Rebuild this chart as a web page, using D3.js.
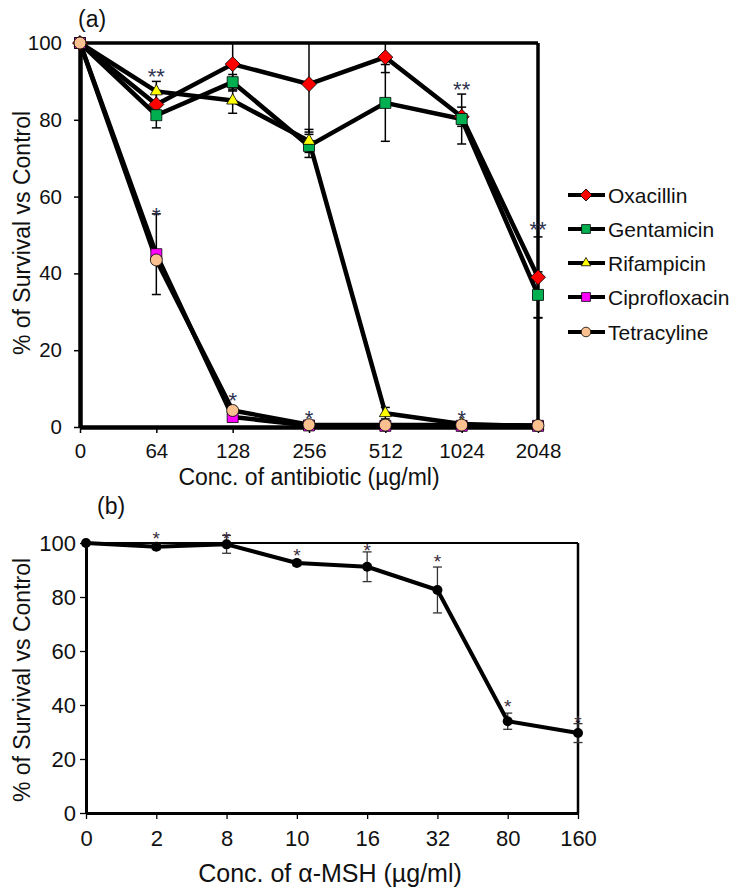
<!DOCTYPE html>
<html><head><meta charset="utf-8">
<script src="https://cdn.jsdelivr.net/npm/d3@7"></script>
<style>body{margin:0;background:#fff} svg{display:block}</style>
</head><body>
<svg id="chart" width="737" height="893"></svg>
<script>
// ---------- Panel (a) data ----------
const categoriesA = ["0","64","128","256","512","1024","2048"];
const seriesNames = ["Oxacillin","Gentamicin","Rifampicin","Ciprofloxacin","Tetracyline"];
const oxacillin     = [100, 84.0, 94.5, 89.3, 96.3, 80.8, 39.0];
const gentamicin    = [100, 81.2, 89.8, 73.2, 84.4, 80.2, 34.4];
const rifampicin    = [100, 87.4, 85.0, 74.5, 3.6, 0.8, 0.2];
const ciprofloxacin = [100, 45.0, 2.6, 0.4, 0.3, 0.3, 0.3];
const tetracyline   = [100, 43.5, 4.3, 0.6, 0.5, 0.5, 0.4];
const oxacillinErr     = [0, 3.0, 7.0, 12.5, 4.0, 2.5, 10.5];
const gentamicinErr    = [0, 3.3, 2.0, 3.0, 10.0, 6.5, 6.0];
const rifampicinErr    = [0, 2.6, 3.3, 3.0, 1.5, 0.5, 0];
const ciprofloxacinErr = [0, 10.5, 1.0, 0.5, 0, 0, 0];
const tetracylineErr   = [0, 1.0, 1.0, 0.5, 0, 0, 0];
const yTicksA = [0, 20, 40, 60, 80, 100];
const annotA_x = ["64", "64", "128", "256", "1024", "1024", "2048"];
const annotA_y = [92.7, 56.5, 8.3, 3.6, 3.6, 89.3, 52.9];
const annotA_t = ["**", "*", "*", "*", "*", "**", "**"];

// ---------- Panel (b) data ----------
const categoriesB = ["0","2","8","10","16","32","80","160"];
const msh    = [100, 98.6, 99.5, 92.6, 91.2, 82.6, 34.0, 29.6];
const mshErr = [0, 1.0, 3.3, 1.0, 5.5, 8.5, 3.0, 3.5];
const yTicksB = [0, 20, 40, 60, 80, 100];
const annotB_x = ["2", "8", "10", "16", "32", "80", "160"];
const annotB_y = [103.3, 103.3, 96.9, 98.8, 95.0, 41.2, 35.3];

const FONT = "'Liberation Sans', Arial, sans-serif";
const NARROW = "'Liberation Sans Narrow', 'Arial Narrow', 'Liberation Sans', Arial, sans-serif";
const svg = d3.select("#chart");

// ================= Panel (a) =================
const xA = d3.scalePoint().domain(categoriesA).range([80, 538]).padding(0);
const yA = d3.scaleLinear().domain([0, 100]).range([427, 43]);

const seriesA = [
  {name: seriesNames[0], values: oxacillin, err: oxacillinErr, shape: "diamond", fill: "#ff0000"},
  {name: seriesNames[1], values: gentamicin, err: gentamicinErr, shape: "square", fill: "#00b050"},
  {name: seriesNames[2], values: rifampicin, err: rifampicinErr, shape: "triangle", fill: "#ffff00"},
  {name: seriesNames[3], values: ciprofloxacin, err: ciprofloxacinErr, shape: "square", fill: "#ff00ff"},
  {name: seriesNames[4], values: tetracyline, err: tetracylineErr, shape: "circle", fill: "#fac090"}
];

function markerPath(shape, scale) {
  const s = scale || 1;
  if (shape === "diamond") return d3.symbol().type(d3.symbolSquare).size(112 * s * s)();
  if (shape === "square") return d3.symbol().type(d3.symbolSquare).size(121 * s * s)();
  if (shape === "triangle") return d3.symbol().type(d3.symbolTriangle).size(62 * s * s)();
  return d3.symbol().type(d3.symbolCircle).size(113 * s * s)();
}

svg.append("defs").append("clipPath").attr("id", "clipA")
  .append("rect").attr("x", 60).attr("y", 43).attr("width", 500).attr("height", 420);

const gA = svg.append("g");

// frame (top and right)
gA.append("line").attr("x1", 80).attr("x2", 538).attr("y1", yA(100)).attr("y2", yA(100))
  .attr("stroke", "#000").attr("stroke-width", 3.5);
gA.append("line").attr("x1", 538).attr("x2", 538).attr("y1", yA(100)).attr("y2", yA(0))
  .attr("stroke", "#000").attr("stroke-width", 3.5);

// axes
const axLeftA = gA.append("g").attr("transform", "translate(80,0)")
  .call(d3.axisLeft(yA).tickValues(yTicksA).tickSize(6).tickPadding(12).tickSizeOuter(0));
const axBottomA = gA.append("g").attr("transform", `translate(0,${yA(0)})`)
  .call(d3.axisBottom(xA).tickSize(6).tickPadding(10).tickSizeOuter(0));
[axLeftA, axBottomA].forEach(ax => {
  ax.select(".domain").attr("stroke", "#000").attr("stroke-width", 4.5);
  ax.selectAll(".tick line").attr("stroke", "#000").attr("stroke-width", 1.5);
  ax.selectAll(".tick text").attr("font-family", FONT).attr("font-size", 20.5).attr("fill", "#111");
});

// error bars
const errG = gA.append("g").attr("clip-path", "url(#clipA)");
seriesA.forEach(s => {
  s.values.forEach((v, i) => {
    const e = s.err[i];
    if (!e) return;
    const x = xA(categoriesA[i]);
    errG.append("line").attr("x1", x).attr("x2", x).attr("y1", yA(v + e)).attr("y2", yA(v - e))
      .attr("stroke", "#000").attr("stroke-width", 1.5);
    [v + e, v - e].forEach(t => {
      errG.append("line").attr("x1", x - 4.5).attr("x2", x + 4.5).attr("y1", yA(t)).attr("y2", yA(t))
        .attr("stroke", "#000").attr("stroke-width", 1.5);
    });
  });
});

// lines
const lineA = d3.line().x((d, i) => xA(categoriesA[i])).y(d => yA(d));
seriesA.forEach(s => {
  gA.append("path").attr("d", lineA(s.values)).attr("fill", "none")
    .attr("stroke", "#000").attr("stroke-width", 4.5).attr("stroke-linejoin", "round");
});
// markers
seriesA.forEach(s => {
  s.values.forEach((v, i) => {
    gA.append("path").attr("d", markerPath(s.shape))
      .attr("transform", `translate(${xA(categoriesA[i])},${yA(v)})` + (s.shape === "diamond" ? " rotate(45)" : ""))
      .attr("fill", s.fill).attr("stroke", "#000").attr("stroke-width", 0.8);
  });
});

// asterisks
annotA_t.forEach((t, i) => {
  gA.append("text").attr("x", xA(annotA_x[i])).attr("y", yA(annotA_y[i]) + 13)
    .attr("text-anchor", "middle").attr("font-family", FONT).attr("font-size", 22)
    .attr("fill", "#2e3350").text(t);
});

// titles
gA.append("text").attr("x", 78).attr("y", 27).attr("font-family", FONT).attr("font-size", 23)
  .attr("fill", "#111").text("(a)");
gA.append("text").attr("x", 309).attr("y", 485).attr("text-anchor", "middle")
  .attr("font-family", FONT).attr("font-size", 23).attr("fill", "#111").text("Conc. of antibiotic (µg/ml)");
gA.append("text").attr("transform", "translate(30,233) rotate(-90)").attr("text-anchor", "middle")
  .attr("font-family", FONT).attr("font-size", 23).attr("fill", "#111").text("% of Survival vs Control");

// legend
const legY = [195, 229, 263, 297, 332];
seriesA.forEach((s, i) => {
  const lg = gA.append("g").attr("transform", `translate(0,${legY[i]})`);
  lg.append("line").attr("x1", 568).attr("x2", 605).attr("y1", 0).attr("y2", 0)
    .attr("stroke", "#000").attr("stroke-width", 4);
  lg.append("path").attr("d", markerPath(s.shape, 0.8))
    .attr("transform", "translate(586,0)" + (s.shape === "diamond" ? " rotate(45)" : ""))
    .attr("fill", s.fill).attr("stroke", "#000").attr("stroke-width", 0.8);
  lg.append("text").attr("x", 608).attr("y", 0).attr("dy", "0.36em")
    .attr("font-family", FONT).attr("font-size", 21).attr("fill", "#111").text(s.name);
});

// ================= Panel (b) =================
const xB = d3.scalePoint().domain(categoriesB).range([86, 578]).padding(0);
const yB = d3.scaleLinear().domain([0, 100]).range([813, 543]);
const gB = svg.append("g");

gB.append("line").attr("x1", 86).attr("x2", 578).attr("y1", yB(100)).attr("y2", yB(100))
  .attr("stroke", "#000").attr("stroke-width", 2.2);
gB.append("line").attr("x1", 578).attr("x2", 578).attr("y1", yB(100)).attr("y2", yB(0))
  .attr("stroke", "#000").attr("stroke-width", 2.5);

const axLeftB = gB.append("g").attr("transform", "translate(86,0)")
  .call(d3.axisLeft(yB).tickValues(yTicksB).tickSize(6).tickPadding(4).tickSizeOuter(0));
const axBottomB = gB.append("g").attr("transform", `translate(0,${yB(0)})`)
  .call(d3.axisBottom(xB).tickSize(6).tickPadding(11).tickSizeOuter(0));
[axLeftB, axBottomB].forEach(ax => {
  ax.select(".domain").attr("stroke", "#000").attr("stroke-width", 3);
  ax.selectAll(".tick line").attr("stroke", "#000").attr("stroke-width", 1.3);
});
axLeftB.selectAll(".tick text").attr("font-family", FONT).attr("font-size", 22).attr("fill", "#111");
axBottomB.selectAll(".tick text").attr("font-family", NARROW).attr("font-size", 22).attr("fill", "#111");

msh.forEach((v, i) => {
  const e = mshErr[i];
  if (!e) return;
  const x = xB(categoriesB[i]);
  gB.append("line").attr("x1", x).attr("x2", x).attr("y1", yB(v + e)).attr("y2", yB(v - e))
    .attr("stroke", "#333").attr("stroke-width", 1.3);
  [v + e, v - e].forEach(t => {
    gB.append("line").attr("x1", x - 4.5).attr("x2", x + 4.5).attr("y1", yB(t)).attr("y2", yB(t))
      .attr("stroke", "#333").attr("stroke-width", 1.3);
  });
});
const lineB = d3.line().x((d, i) => xB(categoriesB[i])).y(d => yB(d));
gB.append("path").attr("d", lineB(msh)).attr("fill", "none").attr("stroke", "#000")
  .attr("stroke-width", 4).attr("stroke-linejoin", "round");
gB.selectAll("circle.pt").data(msh).join("circle").attr("class", "pt")
  .attr("cx", (d, i) => xB(categoriesB[i])).attr("cy", d => yB(d)).attr("r", 5).attr("fill", "#000");

annotB_x.forEach((c, i) => {
  gB.append("text").attr("x", xB(c)).attr("y", yB(annotB_y[i]) + 11)
    .attr("text-anchor", "middle").attr("font-family", FONT).attr("font-size", 19)
    .attr("fill", "#3a2a3a").text("*");
});

gB.append("text").attr("x", 97).attr("y", 514).attr("font-family", FONT).attr("font-size", 23)
  .attr("fill", "#111").text("(b)");
gB.append("text").attr("x", 330).attr("y", 882).attr("text-anchor", "middle")
  .attr("font-family", NARROW).attr("font-size", 25).attr("fill", "#111").text("Conc. of α-MSH (µg/ml)");
gB.append("text").attr("transform", "translate(30,680) rotate(-90)").attr("text-anchor", "middle")
  .attr("font-family", FONT).attr("font-size", 23).attr("fill", "#111").text("% of Survival vs Control");
</script>
</body></html>
